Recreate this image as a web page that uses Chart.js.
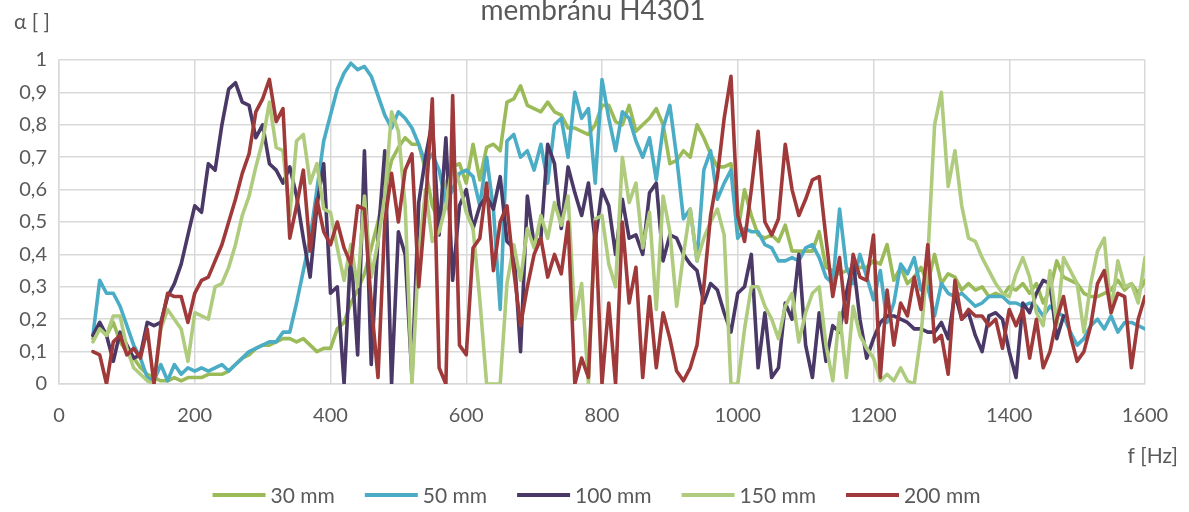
<!DOCTYPE html>
<html>
<head>
<meta charset="utf-8">
<title>membránu H4301</title>
<script src="https://cdn.jsdelivr.net/npm/chart.js@4.4.1/dist/chart.umd.min.js"></script>
<style>
    html, body { margin: 0; padding: 0; background: #fff; }
    #wrap { width: 1189px; height: 512px; }
</style>
</head>
<body>
<div id="wrap"><canvas id="alpha-chart" width="1189" height="512"></canvas></div>
<script>
// Frequency points (Hz), one every 10 Hz
const freqHz = [
    50, 60, 70, 80, 90, 100, 110, 120, 130, 140,
    150, 160, 170, 180, 190, 200, 210, 220, 230, 240,
    250, 260, 270, 280, 290, 300, 310, 320, 330, 340,
    350, 360, 370, 380, 390, 400, 410, 420, 430, 440,
    450, 460, 470, 480, 490, 500, 510, 520, 530, 540,
    550, 560, 570, 580, 590, 600, 610, 620, 630, 640,
    650, 660, 670, 680, 690, 700, 710, 720, 730, 740,
    750, 760, 770, 780, 790, 800, 810, 820, 830, 840,
    850, 860, 870, 880, 890, 900, 910, 920, 930, 940,
    950, 960, 970, 980, 990, 1000, 1010, 1020, 1030, 1040,
    1050, 1060, 1070, 1080, 1090, 1100, 1110, 1120, 1130, 1140,
    1150, 1160, 1170, 1180, 1190, 1200, 1210, 1220, 1230, 1240,
    1250, 1260, 1270, 1280, 1290, 1300, 1310, 1320, 1330, 1340,
    1350, 1360, 1370, 1380, 1390, 1400, 1410, 1420, 1430, 1440,
    1450, 1460, 1470, 1480, 1490, 1500, 1510, 1520, 1530, 1540,
    1550, 1560, 1570, 1580, 1590, 1600
];

// Absorption coefficient per air gap depth
const alpha30 = [
    0.14, 0.18, 0.15, 0.19, 0.13, 0.10, 0.08, 0.05, 0.03, 0.02,
    0.01, 0.01, 0.02, 0.01, 0.02, 0.02, 0.02, 0.03, 0.03, 0.03,
    0.04, 0.06, 0.08, 0.09, 0.11, 0.12, 0.12, 0.13, 0.14, 0.14,
    0.13, 0.14, 0.12, 0.10, 0.11, 0.11, 0.17, 0.19, 0.25, 0.29,
    0.34, 0.42, 0.50, 0.60, 0.69, 0.73, 0.76, 0.74, 0.74, 0.66,
    0.55, 0.50, 0.62, 0.67, 0.68, 0.62, 0.74, 0.63, 0.73, 0.74,
    0.72, 0.87, 0.88, 0.92, 0.86, 0.85, 0.84, 0.87, 0.84, 0.83,
    0.79, 0.79, 0.78, 0.77, 0.80, 0.86, 0.86, 0.81, 0.80, 0.86,
    0.78, 0.80, 0.82, 0.85, 0.80, 0.68, 0.69, 0.72, 0.70, 0.80,
    0.76, 0.71, 0.67, 0.67, 0.68, 0.47, 0.60, 0.52, 0.46, 0.45,
    0.46, 0.44, 0.49, 0.41, 0.41, 0.41, 0.41, 0.47, 0.36, 0.35,
    0.34, 0.35, 0.36, 0.36, 0.36, 0.38, 0.37, 0.43, 0.32, 0.36,
    0.31, 0.33, 0.36, 0.31, 0.40, 0.31, 0.34, 0.33, 0.29, 0.31,
    0.29, 0.30, 0.27, 0.28, 0.27, 0.30, 0.29, 0.31, 0.28, 0.31,
    0.25, 0.29, 0.38, 0.33, 0.32, 0.31, 0.28, 0.27, 0.27, 0.28,
    0.29, 0.32, 0.29, 0.31, 0.28, 0.32
];

const alpha50 = [
    0.15, 0.32, 0.28, 0.28, 0.24, 0.18, 0.12, 0.08, 0.02, 0.01,
    0.06, 0.01, 0.06, 0.03, 0.05, 0.04, 0.05, 0.04, 0.05, 0.06,
    0.04, 0.06, 0.08, 0.10, 0.11, 0.12, 0.13, 0.13, 0.16, 0.16,
    0.25, 0.35, 0.45, 0.60, 0.75, 0.83, 0.91, 0.96, 0.99, 0.97,
    0.98, 0.95, 0.89, 0.83, 0.79, 0.84, 0.82, 0.79, 0.74, 0.68,
    0.71, 0.66, 0.56, 0.60, 0.65, 0.66, 0.64, 0.55, 0.70, 0.54,
    0.23, 0.75, 0.77, 0.70, 0.72, 0.66, 0.74, 0.62, 0.80, 0.82,
    0.70, 0.90, 0.82, 0.85, 0.62, 0.94, 0.82, 0.72, 0.84, 0.82,
    0.75, 0.70, 0.76, 0.63, 0.79, 0.86, 0.70, 0.51, 0.54, 0.38,
    0.66, 0.72, 0.57, 0.62, 0.66, 0.45, 0.48, 0.47, 0.47, 0.43,
    0.42, 0.38, 0.38, 0.39, 0.38, 0.42, 0.43, 0.39, 0.33, 0.31,
    0.54, 0.36, 0.31, 0.40, 0.33, 0.26, 0.35, 0.19, 0.25, 0.37,
    0.34, 0.39, 0.29, 0.30, 0.21, 0.31, 0.28, 0.27, 0.28, 0.26,
    0.24, 0.25, 0.27, 0.27, 0.27, 0.25, 0.25, 0.24, 0.25, 0.24,
    0.21, 0.24, 0.22, 0.21, 0.16, 0.12, 0.14, 0.18, 0.20, 0.17,
    0.21, 0.16, 0.19, 0.19, 0.18, 0.17
];

// measured only up to 1480 Hz
const alpha100 = [
    0.15, 0.19, 0.15, 0.07, 0.16, 0.12, 0.08, 0.09, 0.19, 0.18,
    0.19, 0.27, 0.31, 0.37, 0.46, 0.55, 0.53, 0.68, 0.66, 0.80,
    0.91, 0.93, 0.87, 0.86, 0.76, 0.80, 0.68, 0.66, 0.62, 0.67,
    0.58, 0.45, 0.33, 0.55, 0.68, 0.28, 0.30, 0.00, 0.42, 0.09,
    0.72, 0.06, 0.45, 0.72, 0.00, 0.47, 0.40, 0.02, 0.56, 0.70,
    0.81, 0.46, 0.76, 0.32, 0.55, 0.60, 0.48, 0.55, 0.58, 0.54,
    0.64, 0.44, 0.42, 0.10, 0.58, 0.43, 0.45, 0.74, 0.68, 0.48,
    0.67, 0.59, 0.52, 0.62, 0.44, 0.60, 0.55, 0.40, 0.57, 0.45,
    0.46, 0.40, 0.59, 0.62, 0.38, 0.46, 0.45, 0.40, 0.37, 0.35,
    0.25, 0.31, 0.29, 0.22, 0.16, 0.28, 0.30, 0.40, 0.05, 0.22,
    0.02, 0.05, 0.25, 0.20, 0.40, 0.12, 0.02, 0.22, 0.07, 0.18,
    0.16, 0.28, 0.38, 0.20, 0.08, 0.14, 0.19, 0.21, 0.21, 0.20,
    0.19, 0.17, 0.17, 0.16, 0.16, 0.19, 0.14, 0.28, 0.20, 0.22,
    0.15, 0.10, 0.21, 0.22, 0.20, 0.10, 0.02, 0.25, 0.22, 0.28,
    0.32, 0.31, 0.14, 0.21
];

const alpha150 = [
    0.13, 0.17, 0.15, 0.21, 0.21, 0.11, 0.05, 0.03, 0.01, 0.00,
    0.17, 0.23, 0.20, 0.17, 0.07, 0.22, 0.21, 0.20, 0.30, 0.31,
    0.36, 0.43, 0.52, 0.58, 0.67, 0.75, 0.87, 0.73, 0.72, 0.52,
    0.75, 0.77, 0.62, 0.68, 0.54, 0.53, 0.42, 0.32, 0.43, 0.30,
    0.58, 0.33, 0.44, 0.58, 0.84, 0.78, 0.55, 0.00, 0.40, 0.60,
    0.44, 0.47, 0.55, 0.68, 0.62, 0.53, 0.48, 0.26, 0.00, 0.00,
    0.00, 0.31, 0.43, 0.32, 0.48, 0.42, 0.52, 0.45, 0.56, 0.49,
    0.58, 0.20, 0.31, 0.00, 0.51, 0.52, 0.37, 0.30, 0.70, 0.56,
    0.62, 0.42, 0.53, 0.23, 0.58, 0.47, 0.24, 0.40, 0.54, 0.38,
    0.45, 0.50, 0.54, 0.46, 0.00, 0.00, 0.17, 0.30, 0.30, 0.24,
    0.20, 0.14, 0.24, 0.28, 0.13, 0.22, 0.28, 0.30, 0.12, 0.01,
    0.22, 0.02, 0.24, 0.15, 0.11, 0.08, 0.01, 0.03, 0.01, 0.05,
    0.01, 0.00, 0.15, 0.39, 0.80, 0.90, 0.61, 0.72, 0.55, 0.45,
    0.44, 0.39, 0.35, 0.31, 0.28, 0.27, 0.34, 0.39, 0.33, 0.22,
    0.18, 0.35, 0.18, 0.39, 0.35, 0.31, 0.16, 0.31, 0.41, 0.45,
    0.22, 0.38, 0.30, 0.31, 0.25, 0.39
];

const alpha200 = [
    0.10, 0.09, 0.00, 0.13, 0.15, 0.09, 0.11, 0.08, 0.17, 0.00,
    0.18, 0.28, 0.27, 0.27, 0.19, 0.28, 0.32, 0.33, 0.38, 0.43,
    0.50, 0.57, 0.65, 0.71, 0.84, 0.88, 0.94, 0.81, 0.85, 0.45,
    0.55, 0.66, 0.41, 0.57, 0.47, 0.43, 0.50, 0.42, 0.37, 0.55,
    0.54, 0.25, 0.02, 0.50, 0.65, 0.50, 0.66, 0.71, 0.30, 0.55,
    0.88, 0.05, 0.00, 0.89, 0.12, 0.09, 0.42, 0.45, 0.62, 0.35,
    0.50, 0.55, 0.35, 0.18, 0.30, 0.40, 0.45, 0.33, 0.40, 0.34,
    0.50, 0.00, 0.08, 0.02, 0.50, 0.00, 0.25, 0.00, 0.50, 0.25,
    0.36, 0.02, 0.27, 0.05, 0.22, 0.14, 0.04, 0.01, 0.05, 0.12,
    0.30, 0.52, 0.64, 0.82, 0.95, 0.52, 0.44, 0.60, 0.78, 0.50,
    0.46, 0.51, 0.74, 0.60, 0.52, 0.57, 0.63, 0.64, 0.45, 0.27,
    0.39, 0.19, 0.40, 0.33, 0.32, 0.46, 0.02, 0.29, 0.12, 0.25,
    0.21, 0.33, 0.23, 0.43, 0.13, 0.15, 0.03, 0.32, 0.20, 0.23,
    0.21, 0.21, 0.18, 0.20, 0.11, 0.23, 0.18, 0.23, 0.08, 0.20,
    0.05, 0.10, 0.20, 0.27, 0.15, 0.07, 0.10, 0.18, 0.31, 0.35,
    0.22, 0.28, 0.27, 0.05, 0.20, 0.27
];

const seriesNames = ['30 mm', '50 mm', '100 mm', '150 mm', '200 mm'];
const seriesValues = [alpha30, alpha50, alpha100, alpha150, alpha200];
const seriesColors = ['#9bbb59', '#4bacc6', '#4a3866', '#afcc7e', '#a03a3a'];

const xTicks = [0, 200, 400, 600, 800, 1000, 1200, 1400, 1600];

const FONT = 'Lato, "Open Sans", sans-serif';
const TEXT = '#595959';
const GRID = '#d9d9d9';

const toPoints = vals => vals.map((v, i) => ({ x: freqHz[i], y: v }));

const fmtAlpha = v => {
    const r = Math.round(v * 10) / 10;
    return Number.isInteger(r) ? String(r) : r.toFixed(1).replace('.', ',');
};

// title, axis captions and the legend row
const decorations = {
    id: 'decorations',
    afterDraw(chart) {
        const ctx = chart.ctx;
        ctx.save();
        ctx.fillStyle = TEXT;
        ctx.textBaseline = 'alphabetic';

        ctx.font = `28px ${FONT}`;
        ctx.textAlign = 'center';
        ctx.fillText('membránu H4301', 593, 20);

        ctx.font = `21px ${FONT}`;
        ctx.textAlign = 'left';
        ctx.fillText('α [ ]', 14, 29);
        ctx.textAlign = 'right';
        ctx.fillText('f [Hz]', 1178, 463);

        // legend
        ctx.font = `21px ${FONT}`;
        ctx.textAlign = 'left';
        ctx.textBaseline = 'middle';
        const lineW = 53, gap = 5, spacing = 30, y = 495;
        const widths = seriesNames.map(n => ctx.measureText(n).width);
        const total = widths.reduce((a, w) => a + lineW + gap + w, 0) + spacing * (seriesNames.length - 1);
        let x = (chart.width - total) / 2 + 2;
        seriesNames.forEach((name, i) => {
            ctx.strokeStyle = seriesColors[i];
            ctx.lineWidth = 4;
            ctx.lineCap = 'butt';
            ctx.beginPath();
            ctx.moveTo(x, y);
            ctx.lineTo(x + lineW, y);
            ctx.stroke();
            ctx.fillStyle = TEXT;
            ctx.fillText(name, x + lineW + gap, y + 1);
            x += lineW + gap + widths[i] + spacing;
        });
        ctx.restore();
    }
};

new Chart(document.getElementById('alpha-chart'), {
    type: 'line',
    data: {
        datasets: seriesValues.map((vals, i) => ({
            label: seriesNames[i],
            data: toPoints(vals),
            borderColor: seriesColors[i],
            backgroundColor: seriesColors[i],
            borderWidth: 3.6,
            borderJoinStyle: 'round',
            borderCapStyle: 'round',
            pointRadius: 0,
            tension: 0,
            fill: false,
            order: seriesNames.length - i // later series on top
        }))
    },
    options: {
        responsive: false,
        animation: false,
        layout: { padding: { top: 60, right: 44, bottom: 0, left: 0 } },
        plugins: {
            legend: { display: false },
            title: { display: false },
            tooltip: { enabled: false }
        },
        scales: {
            x: {
                type: 'linear',
                min: 0,
                max: 1600,
                afterBuildTicks: scale => { scale.ticks = xTicks.map(v => ({ value: v })); },
                afterFit: scale => { scale.height = 128; },
                ticks: {
                    color: TEXT,
                    font: { family: FONT, size: 20 },
                    padding: 20,
                    maxRotation: 0,
                    autoSkip: false,
                    callback: v => String(v)
                },
                grid: { color: GRID, lineWidth: 1.5, drawTicks: false },
                border: { color: GRID, width: 1.5 }
            },
            y: {
                min: 0,
                max: 1,
                afterFit: scale => { scale.width = 59; },
                ticks: {
                    stepSize: 0.1,
                    color: TEXT,
                    font: { family: FONT, size: 20 },
                    padding: 12,
                    callback: v => fmtAlpha(v)
                },
                grid: { color: GRID, lineWidth: 1.5, drawTicks: false },
                border: { color: GRID, width: 1.5 }
            }
        }
    },
    plugins: [decorations]
});
</script>
</body>
</html>
